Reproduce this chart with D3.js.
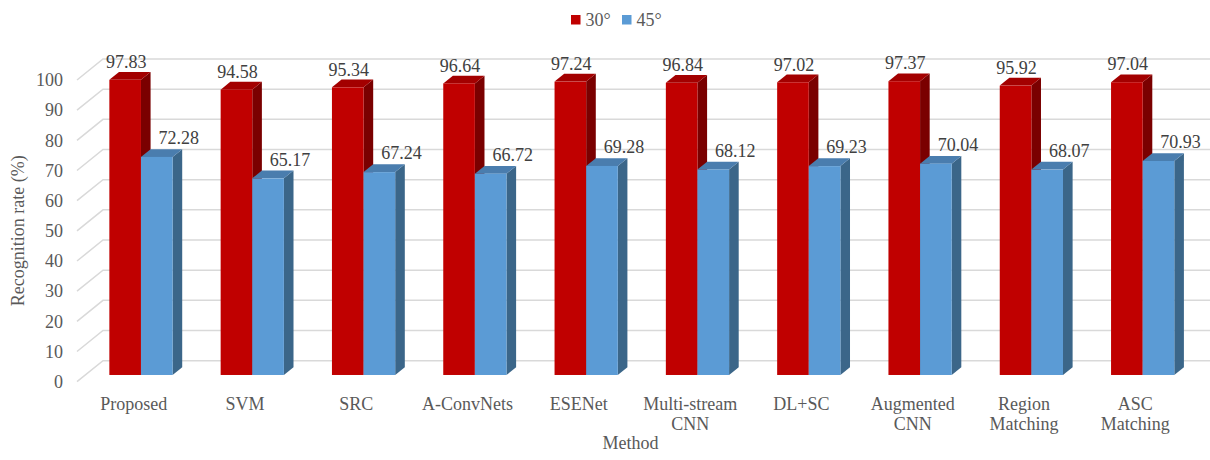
<!DOCTYPE html>
<html>
<head>
<meta charset="utf-8">
<script src="https://cdn.jsdelivr.net/npm/d3@7"></script>
<style>
  html, body { margin: 0; padding: 0; background: #fff; }
  svg text { font-family: "Liberation Serif", "Times New Roman", serif; }
</style>
</head>
<body>
<svg id="chart" width="1210" height="460"></svg>
<script>
// Recognition rate per method at two depression angles
const methods = ["Proposed", "SVM", "SRC", "A-ConvNets", "ESENet", "Multi-stream\nCNN", "DL+SC", "Augmented\nCNN", "Region\nMatching", "ASC\nMatching"];
const seriesNames = ["30°", "45°"];
const values30 = [97.83, 94.58, 95.34, 96.64, 97.24, 96.84, 97.02, 97.37, 95.92, 97.04];
const values45 = [72.28, 65.17, 67.24, 66.72, 69.28, 68.12, 69.23, 70.04, 68.07, 70.93];
const yTicks = [0, 10, 20, 30, 40, 50, 60, 70, 80, 90, 100];

const FONT = "Liberation Serif, Times New Roman, serif";
const svg = d3.select("#chart");
const W = 1210;

// 3D look: depth vector from the front plane to the back wall
const depth = { dx: 26, dy: -21 };
const barFront = 0.32;   // bar front face, as a fraction of depth
const barDepth = 0.37;   // bar thickness, as a fraction of depth

const x = d3.scaleBand().domain(methods).range([77, 1190]);
const xSub = d3.scaleBand().domain(seriesNames).range([0, x.bandwidth()]).paddingInner(0).paddingOuter(0.76);
const y = d3.scaleLinear().domain([0, 100]).range([381.7, 80]);

const colors = {
  "30°": { front: "#C00000", top: "#A30000", side: "#7A0000" },
  "45°": { front: "#5B9BD5", top: "#4A7DAE", side: "#3B6689" }
};

// Walls: left-side diagonals and back-wall gridlines
const grid = svg.append("g");
yTicks.forEach(v => {
  grid.append("path")
    .attr("d", `M${x.range()[0]},${y(v)} L${x.range()[0] + depth.dx},${y(v) + depth.dy} L${W},${y(v) + depth.dy}`)
    .attr("fill", "none").attr("stroke", "#D9D9D9").attr("stroke-width", 1.5);
});

// Y tick labels
svg.append("g").selectAll("text").data(yTicks).join("text")
  .attr("font-family", FONT)
  .attr("x", 63).attr("y", d => y(d)).attr("dy", "0.35em")
  .attr("text-anchor", "end").attr("font-size", 18).attr("fill", "#595959")
  .text(d => d);

// Bars
const rows = methods.map((m, i) => ({ method: m, vals: [values30[i], values45[i]] }));
const ox = depth.dx * barFront, oy = depth.dy * barFront;
const bx = depth.dx * barDepth, by = depth.dy * barDepth;
const bars = svg.append("g");
const labels = [];
rows.forEach(r => {
  seriesNames.forEach((s, si) => {
    const v = r.vals[si];
    const x0 = x(r.method) + xSub(s) + ox;
    const x1 = x0 + xSub.bandwidth();
    const yb = y(0) + oy;
    const yt = y(v) + oy;
    const c = colors[s];
    const g = bars.append("g");
    // right side face
    g.append("path")
      .attr("d", `M${x1},${yb} L${x1 + bx},${yb + by} L${x1 + bx},${yt + by} L${x1},${yt} Z`)
      .attr("fill", c.side);
    // top face
    g.append("path")
      .attr("d", `M${x0},${yt} L${x0 + bx},${yt + by} L${x1 + bx},${yt + by} L${x1},${yt} Z`)
      .attr("fill", c.top);
    // front face
    g.append("rect")
      .attr("x", x0).attr("y", yt).attr("width", x1 - x0).attr("height", yb - yt)
      .attr("fill", c.front);
    const cx = (x0 + x1) / 2 + (si === 0 ? 1 : 22);
    const ly = yt + by - (si === 0 ? 4 : 5);
    labels.push({ x: cx, y: ly, text: v.toFixed(2) });
  });
});

// Data labels
svg.append("g").selectAll("text").data(labels).join("text")
  .attr("font-family", FONT)
  .attr("x", d => d.x).attr("y", d => d.y)
  .attr("text-anchor", "middle").attr("font-size", 18).attr("fill", "#404040")
  .text(d => d.text);

// Category labels (may wrap to two lines)
const catG = svg.append("g");
methods.forEach(m => {
  const cx = x(m) + x.bandwidth() / 2 + 1;
  const t = catG.append("text")
    .attr("font-family", FONT)
    .attr("x", cx).attr("y", 410)
    .attr("text-anchor", "middle").attr("font-size", 18).attr("fill", "#595959");
  m.split("\n").forEach((line, li) => {
    t.append("tspan").attr("x", cx).attr("dy", li === 0 ? 0 : 20).text(line);
  });
});

// Axis titles
svg.append("text")
  .attr("font-family", FONT)
  .attr("x", (x.range()[0] + x.range()[1]) / 2 - 3).attr("y", 449)
  .attr("text-anchor", "middle").attr("font-size", 18).attr("fill", "#595959")
  .text("Method");
svg.append("text")
  .attr("font-family", FONT)
  .attr("transform", `translate(24,${(y(0) + y(100)) / 2}) rotate(-90)`)
  .attr("text-anchor", "middle").attr("font-size", 18).attr("fill", "#595959")
  .text("Recognition rate (%)");

// Legend
const legend = svg.append("g");
const legendItems = [{ name: "30°", x: 571 }, { name: "45°", x: 622 }];
legendItems.forEach(it => {
  legend.append("rect").attr("x", it.x).attr("y", 15).attr("width", 9.5).attr("height", 9.5)
    .attr("fill", colors[it.name].front);
  legend.append("text").attr("font-family", FONT).attr("x", it.x + 14.5).attr("y", 26)
    .attr("font-size", 18).attr("fill", "#595959").text(it.name);
});
</script>
</body>
</html>
